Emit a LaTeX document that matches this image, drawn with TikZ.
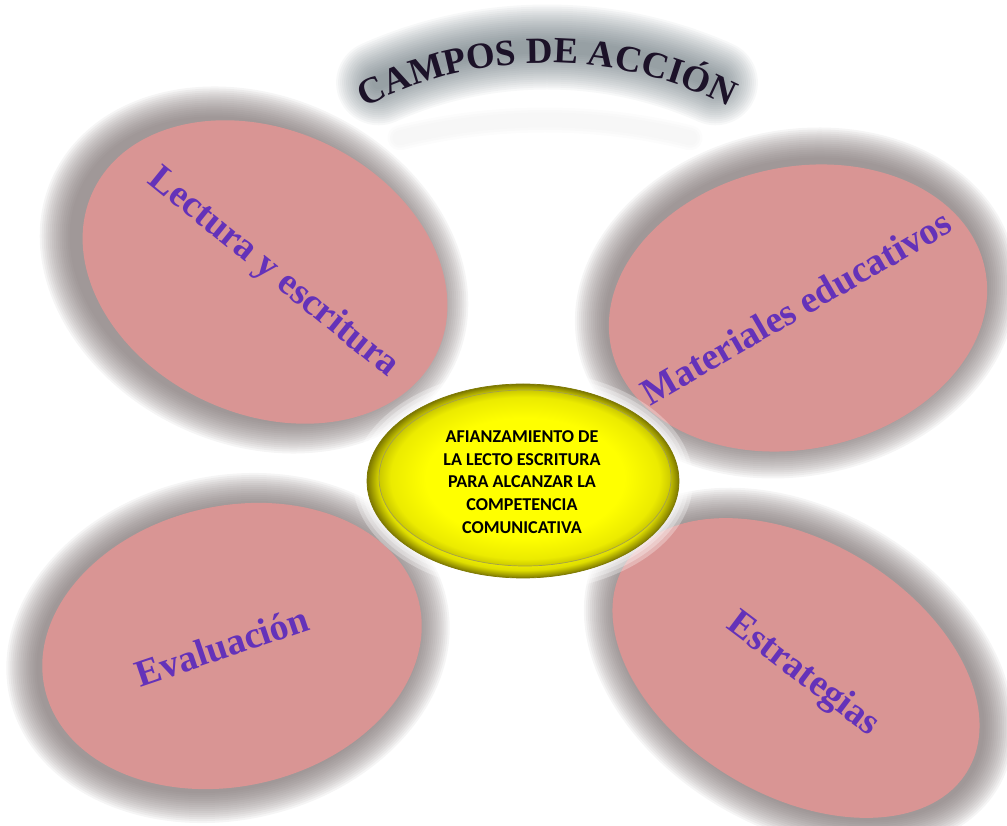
\documentclass[tikz,border=0pt]{standalone}
\usepackage{fontspec}
\setmainfont{Liberation Serif}
\newfontfamily\hubfont{Carlito}
\usetikzlibrary{decorations.text}

\definecolor{petalpink}{RGB}{217,149,148}
\definecolor{petalshade}{RGB}{112,100,100}
\definecolor{petalviolet}{RGB}{100,50,185}
\definecolor{titleglow}{RGB}{70,86,94}
\definecolor{titleink}{RGB}{28,18,40}
\definecolor{hubyellow}{RGB}{255,255,0}
\definecolor{hubedge}{RGB}{125,120,0}

\pgfdeclareradialshading{hubrim}{\pgfpoint{0bp}{0bp}}{color(0bp)=(hubyellow); color(20bp)=(hubyellow); color(23bp)=(hubyellow!75!hubedge); color(25bp)=(hubedge); color(50bp)=(hubedge)}
\pgfdeclareradialshading{hubcore}{\pgfpoint{0bp}{0bp}}{color(0bp)=(hubyellow); color(17bp)=(hubyellow); color(23bp)=(hubyellow!85!hubedge); color(25bp)=(hubyellow!60!hubedge); color(50bp)=(hubyellow!60!hubedge)}

\tikzset{
  petal/.style={fill=petalpink},
  petalshadow/.style={fill=petalshade, opacity=0.065},
  petallabel/.style={text=petalviolet, font=\fontsize{21.5}{26}\selectfont\bfseries},
  hubhalo/.style={fill=white, opacity=0.3},
  hublabel/.style={align=center, font=\hubfont\fontsize{10.3}{12.9}\selectfont\bfseries}
}

\begin{document}
\begin{tikzpicture}[x=0.02cm, y=0.02cm]
    \useasboundingbox (0,0) rectangle (1007,825);
    \coordinate (pLect) at (265,553);
    \coordinate (pMat) at (798,517);
    \coordinate (pEval) at (232,179);
    \coordinate (pEstr) at (796,157);
    \coordinate (sLect) at (254,555);
    \coordinate (sMat) at (796,522);
    \coordinate (sEval) at (228,177);
    \coordinate (sEstr) at (799,156);
    \coordinate (hub) at (523,344);
    \coordinate (hubIn) at (525,347);
    \coordinate (titlemid) at (547,364);

    % soft shadows behind the four petals
    \foreach \s in {32,30,...,2} {
      \fill[petalshadow, rotate around={-25:(sLect)}] (sLect) ellipse [x radius=190+\s, y radius=142+\s];
      \fill[petalshadow, rotate around={12:(sMat)}] (sMat) ellipse [x radius=191+\s, y radius=141+\s];
      \fill[petalshadow, rotate around={13:(sEval)}] (sEval) ellipse [x radius=192+\s, y radius=140+\s];
      \fill[petalshadow, rotate around={-31:(sEstr)}] (sEstr) ellipse [x radius=200+\s, y radius=127+\s];
    }
    \fill[petal, rotate around={-25:(pLect)}] (pLect) ellipse [x radius=190, y radius=142];
    \fill[petal, rotate around={12:(pMat)}] (pMat) ellipse [x radius=191, y radius=141];
    \fill[petal, rotate around={13:(pEval)}] (pEval) ellipse [x radius=192, y radius=140];
    \fill[petal, rotate around={-31:(pEstr)}] (pEstr) ellipse [x radius=200, y radius=127];

    \node[petallabel, rotate=-39] (lect) at (273,552) {Lectura y escritura};
    \node[petallabel, rotate=30] (mat) at (796,518) {Materiales educativos};
    \node[petallabel, rotate=18.7] (eval) at (222,179) {Evaluación};
    \node[petallabel, rotate=-37] (estr) at (803,150) {Estrategias};

    % title on an arch
    \foreach \w in {0.5cm,0.4cm,0.3cm} {
      \draw[gray!30, line width=\w, opacity=0.08, line cap=round]
        ([shift={(104:600)}]545,105) arc [start angle=104, end angle=76, radius=600];
    }
    \foreach \w in {1.7cm,1.62cm,...,0.2cm} {
      \draw[titleglow, line width=\w, opacity=0.045, line cap=round]
        ([shift={(114:414)}]titlemid) arc [start angle=114, end angle=66, radius=414];
    }
    \path[decorate, decoration={text along path, text align=center,
        text={|\color{titleink}\fontsize{21}{26}\selectfont\bfseries|CAMPOS DE ACCIÓN}}]
      ([shift={(140:398)}]titlemid) arc [start angle=140, end angle=40, radius=398];

    % central hub
    \foreach \s in {14,10,6,3} {
      \fill[hubhalo] (hub) ellipse [x radius=156+\s, y radius=97+\s];
    }
    \shade[shading=hubrim] (hub) ellipse [x radius=156, y radius=97];
    \draw[hubedge, line width=0.4pt] (hub) ellipse [x radius=156, y radius=97];
    \shade[shading=hubcore] (hubIn) ellipse [x radius=146, y radius=88];
    \draw[hubedge!70, line width=0.4pt] (hubIn) ellipse [x radius=146, y radius=88];
    \node[hublabel] (afianz) at (522,343) {AFIANZAMIENTO DE\\LA LECTO ESCRITURA\\PARA ALCANZAR LA\\COMPETENCIA\\COMUNICATIVA};
\end{tikzpicture}
\end{document}
